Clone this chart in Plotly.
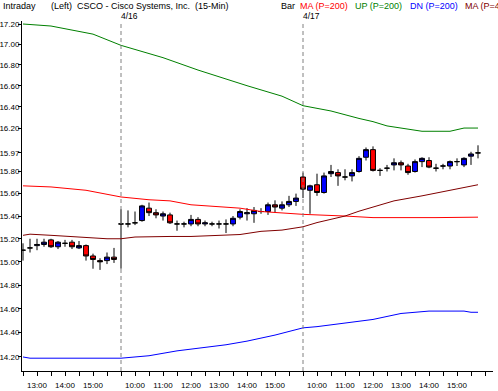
import math
import plotly.graph_objects as go

# ---------------- data ----------------
# 15-minute bars: 4/15 12:30-15:45, 4/16 9:30-15:45, 4/17 9:30-15:45
bar_index = list(range(66))
opens = [15.10, 15.12, 15.14, 15.15, 15.19, 15.13, 15.16, 15.17, 15.12, 15.14, 15.05, 15.01, 15.01, 15.04,
         15.33, 15.33, 15.34, 15.36, 15.47, 15.43, 15.40, 15.41, 15.33, 15.33, 15.33, 15.37, 15.33, 15.33,
         15.33, 15.33, 15.33, 15.39, 15.42, 15.42, 15.44, 15.44, 15.50, 15.47, 15.50, 15.53,
         15.75, 15.63, 15.68, 15.61, 15.78, 15.79, 15.75, 15.76, 15.80, 15.93, 16.00, 15.81, 15.83, 15.86,
         15.88, 15.85, 15.80, 15.89, 15.90, 15.83, 15.85, 15.85, 15.89, 15.86, 15.94, 15.97]
highs = [15.16, 15.20, 15.20, 15.20, 15.20, 15.18, 15.19, 15.19, 15.18, 15.15, 15.07, 15.03, 15.08, 15.12,
         15.46, 15.45, 15.44, 15.50, 15.52, 15.46, 15.44, 15.43, 15.36, 15.35, 15.41, 15.39, 15.36, 15.35,
         15.36, 15.37, 15.40, 15.46, 15.47, 15.48, 15.47, 15.52, 15.54, 15.53, 15.58, 15.60,
         15.79, 15.68, 15.78, 15.79, 15.86, 15.82, 15.82, 15.82, 15.94, 16.02, 16.03, 15.83, 15.86, 15.92,
         15.90, 15.87, 15.91, 15.93, 15.93, 15.87, 15.87, 15.90, 15.92, 15.93, 15.98, 16.04]
lows = [15.01, 15.08, 15.10, 15.13, 15.12, 15.11, 15.13, 15.11, 15.11, 15.01, 14.94, 14.93, 14.98, 14.99,
        14.94, 15.30, 15.32, 15.35, 15.40, 15.38, 15.36, 15.33, 15.27, 15.30, 15.31, 15.31, 15.31, 15.31,
        15.29, 15.25, 15.31, 15.37, 15.36, 15.34, 15.42, 15.41, 15.43, 15.45, 15.48, 15.49,
        15.56, 15.42, 15.58, 15.60, 15.75, 15.67, 15.72, 15.71, 15.79, 15.90, 15.80, 15.76, 15.80, 15.81,
        15.81, 15.77, 15.79, 15.84, 15.83, 15.80, 15.82, 15.82, 15.85, 15.84, 15.86, 15.92]
closes = [15.10, 15.12, 15.15, 15.17, 15.13, 15.17, 15.16, 15.13, 15.14, 15.05, 15.02, 15.00, 15.04, 15.02,
          15.33, 15.33, 15.34, 15.49, 15.43, 15.41, 15.42, 15.34, 15.33, 15.33, 15.37, 15.33, 15.34, 15.33,
          15.33, 15.33, 15.38, 15.44, 15.43, 15.45, 15.44, 15.50, 15.48, 15.50, 15.53, 15.56,
          15.64, 15.67, 15.61, 15.76, 15.80, 15.76, 15.75, 15.79, 15.92, 16.00, 15.81, 15.81, 15.83, 15.88,
          15.86, 15.79, 15.89, 15.92, 15.84, 15.83, 15.85, 15.89, 15.89, 15.92, 15.96, 15.97]

ma200_x = [0, 4, 9, 14, 18, 21, 24, 31, 34, 37, 40, 46, 50, 59, 63, 65]
ma200_y = [15.67, 15.66, 15.63, 15.57, 15.545, 15.535, 15.50, 15.47, 15.44, 15.428, 15.415, 15.40, 15.386, 15.386, 15.39, 15.39]

up200_x = [0, 4, 10, 14, 20, 25, 32, 37, 40, 44, 48, 50, 52, 53, 57, 61, 63, 65]
up200_y = [17.20, 17.18, 17.10, 16.99, 16.87, 16.75, 16.60, 16.50, 16.41, 16.36, 16.29, 16.26, 16.22, 16.21, 16.17, 16.17, 16.20, 16.20]

dn200_x = [0, 1, 14, 18, 22, 25, 29, 32, 36, 40, 42, 46, 50, 54, 58, 63, 64, 65]
dn200_y = [14.20, 14.19, 14.19, 14.21, 14.25, 14.27, 14.30, 14.33, 14.38, 14.44, 14.45, 14.48, 14.51, 14.56, 14.58, 14.58, 14.57, 14.57]

ma4_x = [0, 1, 4, 7, 10, 12, 14, 16, 21, 24, 31, 34, 37, 40, 42, 46, 48, 52, 53, 57, 61, 65]
ma4_y = [15.23, 15.24, 15.23, 15.22, 15.21, 15.20, 15.20, 15.215, 15.22, 15.22, 15.237, 15.265, 15.276, 15.305,
         15.342, 15.40, 15.443, 15.515, 15.535, 15.58, 15.63, 15.68]

hour_ticks = [2, 6, 10, 16, 20, 24, 28, 32, 36, 42, 46, 50, 54, 58, 62]
hour_labels = ["13:00", "14:00", "15:00", "10:00", "11:00", "12:00", "13:00", "14:00", "15:00",
               "10:00", "11:00", "12:00", "13:00", "14:00", "15:00"]
day_starts = [14, 40]
day_labels = ["4/16", "4/17"]

price_ticks = [17.20, 17.00, 16.80, 16.60, 16.40, 16.20, 15.97, 15.80, 15.60, 15.40, 15.20, 15.00,
               14.80, 14.60, 14.40, 14.20]

FONT = "Liberation Sans, Arial, sans-serif"

fig = go.Figure()

for xs, ys, col in [(ma200_x, ma200_y, "#FF0000"), (up200_x, up200_y, "#008000"),
                    (dn200_x, dn200_y, "#0000FF"), (ma4_x, ma4_y, "#800000")]:
    fig.add_trace(go.Scatter(x=xs, y=ys, mode="lines", line=dict(color=col, width=1),
                             showlegend=False, hoverinfo="skip"))

fig.add_trace(go.Candlestick(
    x=bar_index, open=opens, high=highs, low=lows, close=closes,
    increasing=dict(line=dict(color="black", width=1), fillcolor="#0000FF"),
    decreasing=dict(line=dict(color="black", width=1), fillcolor="#FF0000"),
    whiskerwidth=0, showlegend=False))

shapes = []
annotations = []
for d, lab in zip(day_starts, day_labels):
    shapes.append(dict(type="line", xref="x", yref="paper", x0=d, x1=d, y0=0, y1=1,
                       line=dict(color="#808080", width=1, dash="4px,3px")))
    annotations.append(dict(x=d, xref="x", y=1, yref="paper", yshift=5, text=lab, showarrow=False,
                            xanchor="left", yanchor="middle", xshift=-2,
                            font=dict(family=FONT, size=8.5, color="black")))

header = [("Intraday", 2, "black"), ("(Left)", 50, "black"),
          ("CSCO - Cisco Systems, Inc.  (15-Min)", 76, "black"),
          ("Bar", 280, "black"), ("MA (P=200)", 299, "#FF0000"), ("UP (P=200)", 354, "#008000"),
          ("DN (P=200)", 409, "#0000FF"), ("MA (P=4", 464, "#800000")]
for txt, px, col in header:
    annotations.append(dict(x=0, xref="paper", xshift=px - 22 - 1, y=1, yref="paper", yshift=21 - 6,
                            text=txt.replace("  ", "&nbsp; "), showarrow=False, xanchor="left",
                            yanchor="middle", font=dict(family=FONT, size=9, color=col)))

fig.update_layout(
    width=498, height=391,
    margin=dict(l=22, r=5, t=21, b=20, autoexpand=False),
    paper_bgcolor="white", plot_bgcolor="white",
    shapes=shapes, annotations=annotations,
    boxgap=0.3, boxgroupgap=0,
    xaxis=dict(range=[-1 / 7, 470 / 7], rangeslider=dict(visible=False), showgrid=False, zeroline=False,
               automargin=False,
               showline=True, linecolor="black", linewidth=1,
               tickmode="array", tickvals=hour_ticks, ticktext=hour_labels,
               ticks="outside", ticklen=4, tickcolor="black", ticklabelstandoff=2,
               minor=dict(ticks="outside", dtick=2, tick0=0, ticklen=4, tickcolor="black", showgrid=False),
               tickfont=dict(family=FONT, size=8, color="black")),
    yaxis=dict(type="log", range=[1.14878, 1.23628], showgrid=False, zeroline=False,
               automargin=False,
               showline=True, linecolor="black", linewidth=1,
               tickmode="array", tickvals=price_ticks, ticktext=["%.2f" % v for v in price_ticks],
               ticks="outside", ticklen=3, tickcolor="black", ticklabelstandoff=-3,
               tickfont=dict(family=FONT, size=8, color="black")),
    hovermode=False,
)

fig.write_html("out.html", config={"displayModeBar": False},
               post_script="document.body.style.margin='0';document.body.style.overflow='hidden';")
